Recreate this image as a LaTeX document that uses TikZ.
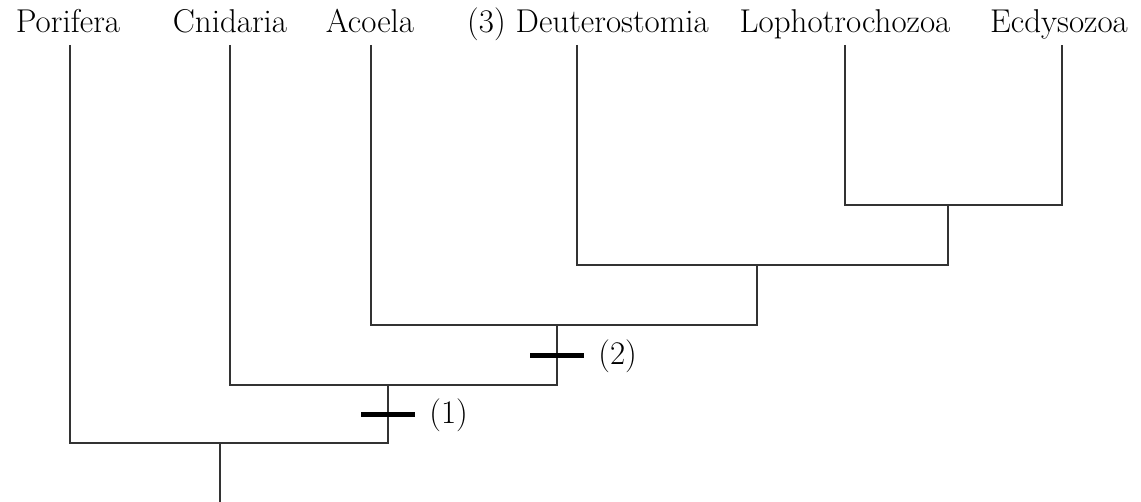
\documentclass[tikz,border=0pt]{standalone}
\usepackage{tikz}
\usetikzlibrary{positioning}

\begin{document}
\begin{tikzpicture}[
  x=1pt, y=-1pt,
  font=\fontsize{33}{38}\selectfont,
  taxon/.style={anchor=base, inner sep=0pt},
  br/.style={line width=1.3pt, color=black!80},
  synapo/.style={fill=black, inner sep=0pt, minimum width=54pt, minimum height=5pt},
  lbl/.style={inner sep=0pt}
]
\useasboundingbox (0,0) rectangle (1141,502);

% taxa
\node[taxon] (por) at (68,33)   {Porifera};
\node[taxon] (cni) at (230,33)  {Cnidaria};
\node[taxon] (aco) at (370,33)  {Acoela};
\node[taxon] (deu) at (588,33)  {(3) Deuterostomia};
\node[taxon] (lop) at (845,33)  {Lophotrochozoa};
\node[taxon] (ecd) at (1059,33) {Ecdysozoa};

% branch tips
\coordinate (porT) at (70,45);
\coordinate (cniT) at (230,45);
\coordinate (acoT) at (371,45);
\coordinate (deuT) at (577,45);
\coordinate (lopT) at (845,45);
\coordinate (ecdT) at (1062,45);

% internal nodes
\coordinate (n1) at (948,205);
\coordinate (n2) at (757,265);
\coordinate (n3) at (557,325);
\coordinate (n4) at (388,385);
\coordinate (n5) at (220,443);
\coordinate (root) at (220,502);

\draw[br] (lopT) |- (n1) -| (ecdT);
\draw[br] (deuT) |- (n2) -| (n1);
\draw[br] (acoT) |- (n3) -| (n2);
\draw[br] (cniT) |- (n4) -| (n3);
\draw[br] (porT) |- (n5) -| (n4);
\draw[br] (n5) -- (root);

% synapomorphies
\node[synapo] (s1) at (388,415) {};
\node[synapo] (s2) at (557,356) {};
\node[lbl, right=14pt of s1] (s1l) {(1)};
\node[lbl, right=14pt of s2] (s2l) {(2)};
\end{tikzpicture}
\end{document}
